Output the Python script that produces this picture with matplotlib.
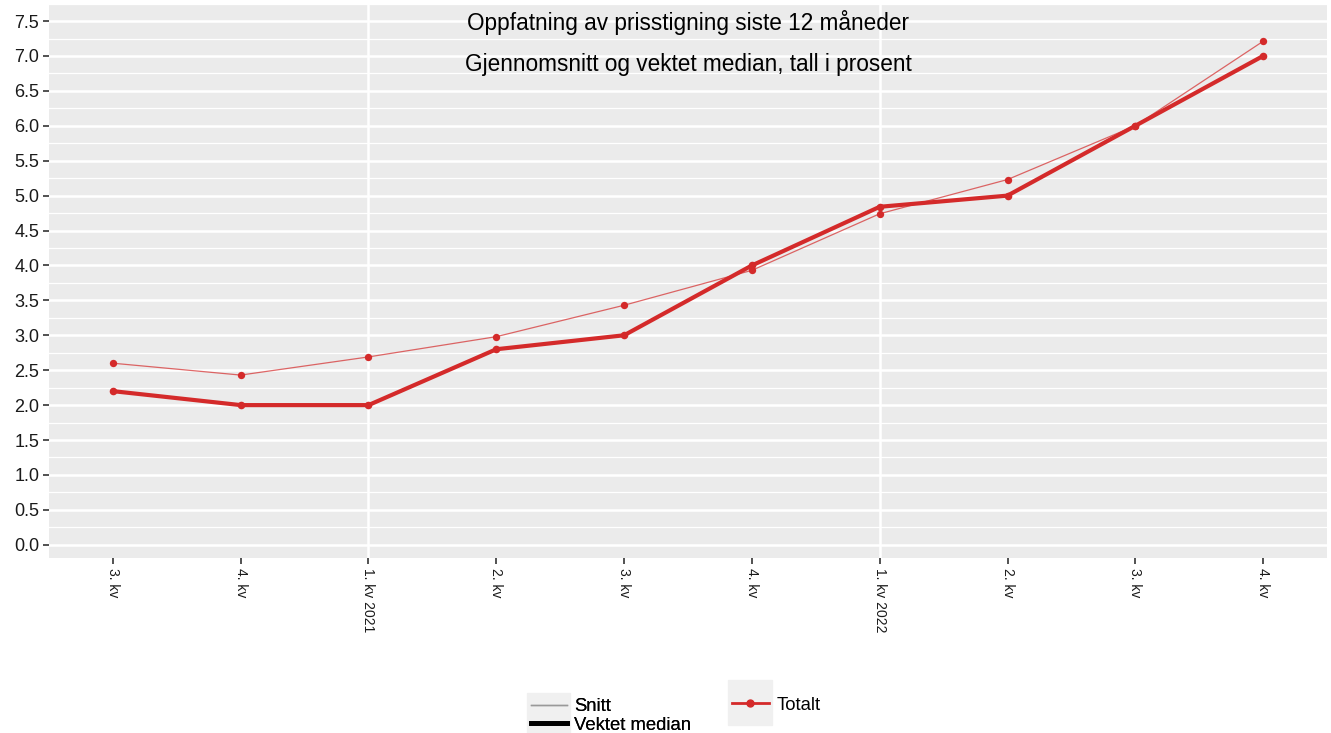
import numpy as np
import matplotlib.pyplot as plt
from matplotlib.lines import Line2D
from matplotlib.patches import Rectangle

plt.rcParams['font.family'] = ['Liberation Sans', 'DejaVu Sans']

# data
quarters = ['3. kv', '4. kv', '1. kv 2021', '2. kv', '3. kv', '4. kv',
            '1. kv 2022', '2. kv', '3. kv', '4. kv']
snitt = [2.60, 2.43, 2.69, 2.98, 3.43, 3.93, 4.74, 5.23, 6.00, 7.21]
median = [2.20, 2.00, 2.00, 2.80, 3.00, 4.00, 4.84, 5.00, 6.00, 7.00]
year_breaks = [2, 6]
y_ticks = np.arange(0, 7.51, 0.5)

red = '#d42a2a'
panel_bg = '#ebebeb'

fig = plt.figure(figsize=(13.31, 7.33), dpi=100)
ax = fig.add_axes([0.0368, 0.2387, 0.9602, 0.7545])
ax.set_facecolor(panel_bg)

x = np.arange(len(quarters))

# grid
for v in y_ticks:
    ax.axhline(v, color='white', lw=1.8, zorder=1)
for v in y_ticks[:-1] + 0.25:
    ax.axhline(v, color='white', lw=0.9, zorder=1)
ax.axhline(7.75, color='white', lw=0.9, zorder=1)
for b in year_breaks:
    ax.axvline(b, color='white', lw=1.8, zorder=1)

ax.plot(x, snitt, color=red, lw=0.9, alpha=0.7, zorder=3)
ax.scatter(x, snitt, color=red, s=28, zorder=4, linewidths=0)
ax.plot(x, median, color=red, lw=3, zorder=3)
ax.scatter(x, median, color=red, s=30, zorder=4, linewidths=0)

ax.set_xlim(-0.5, len(quarters) - 0.5)
ax.set_ylim(-0.19, 7.73)
ax.set_yticks(y_ticks)
ax.set_yticklabels([f'{v:.1f}' for v in y_ticks], fontsize=13, color='#1a1a1a')
ax.set_xticks(x)
ax.set_xticklabels(quarters, rotation=-90, fontsize=10, color='#1a1a1a', va='top')
ax.tick_params(axis='both', length=4, width=1.2, color='#333333', pad=3)
for s in ax.spines.values():
    s.set_visible(False)

ax.text(0.5, 0.968, 'Oppfatning av prisstigning siste 12 måneder',
        transform=ax.transAxes, ha='center', va='center', fontsize=16.3)
ax.text(0.5, 0.893, 'Gjennomsnitt og vektet median, tall i prosent',
        transform=ax.transAxes, ha='center', va='center', fontsize=16.3)

# legend key backgrounds
W, H = 1331, 733
fig.patches.append(Rectangle((527 / W, 1 - 733 / H), 43 / W, 40 / H,
                             transform=fig.transFigure, color='#f0f0f0', zorder=0))
fig.patches.append(Rectangle((728 / W, 1 - 725 / H), 44 / W, 45 / H,
                             transform=fig.transFigure, color='#f0f0f0', zorder=0))

h1 = [Line2D([], [], color='#999999', lw=1),
      Line2D([], [], color='black', lw=3.5)]
leg1 = fig.legend(h1, ['Snitt', 'Vektet median'], loc='center left',
                  bbox_to_anchor=(531 / W, 1 - 716 / H), frameon=False,
                  fontsize=13.3, handlelength=1.95, handletextpad=0.4,
                  labelspacing=0.08, borderpad=0, borderaxespad=0)
fig.add_artist(leg1)
h2 = [Line2D([], [], color=red, lw=2, marker='o', markersize=5)]
fig.legend(h2, ['Totalt'], loc='center left',
           bbox_to_anchor=(732 / W, 1 - 705 / H), frameon=False,
           fontsize=13.3, handlelength=2.0, handletextpad=0.4,
           borderpad=0, borderaxespad=0)

fig.savefig('out.png', dpi=100)
